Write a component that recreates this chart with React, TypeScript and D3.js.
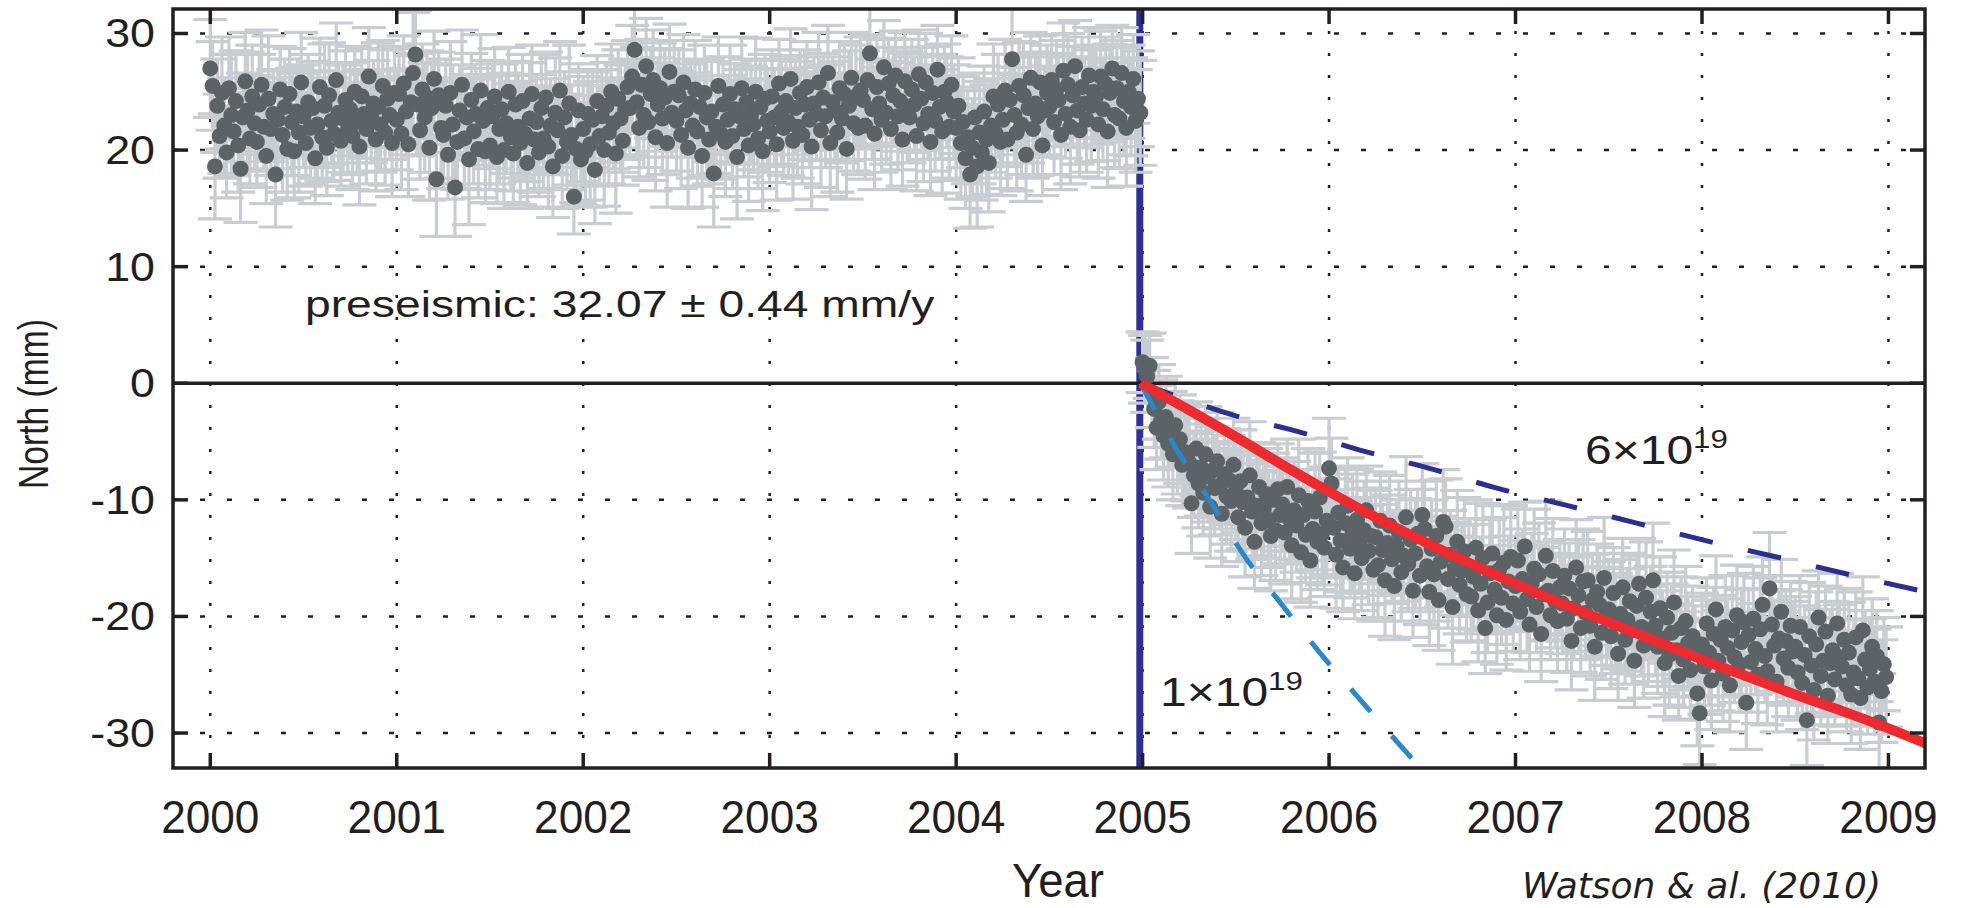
import React, { useRef, useEffect } from "react";
import * as d3 from "d3";

// axis ticks
const yearTicks = [2000, 2001, 2002, 2003, 2004, 2005, 2006, 2007, 2008, 2009];
const northTicks = [-30, -20, -10, 0, 10, 20, 30];

const sampleStep = 0.0125;
const preStart = 2000.0;
const postStart = 2005.0;
const quakeYear = 2004.985;

const preNorth = [
  27.0, 25.5, 18.6, 23.8, 21.2, 24.9, 22.1, 19.8, 25.3, 23.0, 21.6, 24.2, 20.4, 18.4, 22.8, 25.9, 23.4, 21.0, 24.6, 22.3,
  20.7, 23.9, 25.6, 22.0, 19.5, 24.4, 21.8, 23.1, 17.9, 22.6, 25.2, 21.3, 23.7, 20.1, 24.8, 22.4, 19.9, 23.3, 21.5, 25.8,
  22.9, 20.6, 24.1, 21.9, 23.6, 19.3, 22.2, 25.4, 21.1, 23.8, 20.2, 24.7, 22.5, 21.4, 26.0, 23.2, 20.8, 22.7, 24.3, 21.7,
  23.5, 21.2, 25.0, 22.4, 20.3, 24.6, 23.1, 21.8, 26.3, 22.9, 24.0, 20.9, 23.7, 22.2, 25.5, 21.5, 24.4, 23.0, 20.6, 24.9,
  22.6, 24.8, 21.4, 25.7, 23.3, 20.5, 24.1, 26.6, 28.2, 23.9, 21.7, 25.2, 22.8, 24.5, 20.2, 23.6, 26.1, 17.5, 24.7, 21.9,
  21.3, 23.8, 19.6, 24.9, 22.2, 16.8, 20.7, 23.4, 25.6, 21.0, 22.8, 19.2, 24.3, 21.6, 23.1, 20.1, 25.1, 22.5, 19.9, 23.6,
  20.4, 22.9, 24.6, 19.4, 21.8, 23.5, 20.0, 22.3, 25.0, 21.1, 19.7, 23.9, 22.0, 20.6, 24.2, 21.4, 18.9, 22.7, 24.8, 20.9,
  22.4, 19.8, 23.6, 21.0, 24.5, 20.3, 22.1, 18.6, 23.2, 21.7, 25.1, 19.5, 22.8, 20.7, 24.0, 21.3, 16.0, 20.1, 23.4, 19.2,
  21.8, 19.9, 23.1, 20.5, 22.6, 18.3, 24.2, 21.2, 22.9, 20.0, 23.8, 21.5, 25.0, 22.3, 19.7, 24.4, 22.7, 20.8, 23.5, 25.4,
  23.6, 26.3, 28.6, 24.1, 21.9, 25.6, 23.0, 27.2, 22.4, 24.8, 26.0, 21.1, 23.9, 25.3, 22.7, 24.5, 20.6, 26.7, 23.2, 25.0,
  22.5, 24.7, 21.3, 25.8, 23.4, 20.2, 24.0, 22.1, 25.2, 21.6, 23.7, 19.5, 24.9, 22.8, 20.9, 23.3, 18.0, 22.0, 25.5, 21.4,
  23.9, 20.7, 22.6, 24.8, 21.2, 23.5, 19.4, 22.9, 25.3, 21.8, 24.1, 20.4, 23.0, 22.2, 25.0, 21.0, 23.7, 19.9, 24.4, 22.5,
  21.6, 24.6, 22.8, 20.5, 25.7, 23.3, 21.9, 24.2, 22.4, 26.1, 20.8, 23.6, 22.0, 24.9, 21.3, 23.9, 25.4, 22.6, 20.3, 24.0,
  23.1, 25.8, 21.7, 24.5, 22.9, 26.6, 20.6, 24.1, 23.4, 21.5, 25.3, 22.7, 24.8, 20.1, 23.8, 26.2, 22.3, 24.6, 21.9, 25.1,
  24.3, 22.1, 26.0, 28.3, 23.5, 21.4, 25.4, 24.0, 22.6, 27.1, 23.2, 25.7, 21.8, 24.7, 26.4, 22.9, 24.2, 20.9, 25.9, 23.6,
  22.8, 25.2, 23.9, 21.2, 26.5, 24.4, 22.3, 25.8, 23.1, 20.7, 24.9, 22.5, 26.9, 23.7, 21.6, 25.0, 24.1, 22.0, 25.6, 23.3,
  21.9, 23.8, 20.6, 22.4, 19.3, 21.1, 17.9, 20.2, 22.8, 18.6, 21.5, 19.8, 23.3, 20.9, 18.9, 22.1, 24.6, 21.4, 23.9, 20.7,
  22.6, 25.1, 20.9, 24.3, 27.8, 23.0, 21.5, 25.5, 22.2, 24.7, 19.6, 23.6, 26.2, 21.8, 24.0, 22.9, 25.8, 20.4, 23.4, 24.9,
  23.7, 26.0, 22.4, 25.2, 24.3, 21.3, 26.8, 23.1, 25.6, 22.0, 24.7, 27.2, 23.4, 21.7, 25.4, 24.0, 22.6, 26.4, 23.8, 25.0,
  24.6, 22.2, 26.3, 23.5, 25.7, 21.6, 24.9, 27.0, 23.0, 25.3, 22.7, 26.6, 24.2, 21.9, 25.0, 23.7, 26.1, 22.5, 24.4, 23.2,
];

const preSigma = [
  4.2, 3.8, 4.5, 4.0, 3.6, 4.8, 4.1, 3.9, 4.4, 5.2, 3.7, 4.3, 4.0, 4.6, 3.8, 4.2, 5.0, 3.9, 4.4, 4.1,
  3.9, 4.3, 4.7, 3.6, 4.1, 5.4, 4.0, 3.8, 4.5, 4.2, 3.7, 4.9, 4.1, 4.4, 3.9, 4.6, 4.0, 3.8, 5.1, 4.3,
  4.4, 3.7, 4.1, 4.8, 4.0, 3.9, 4.6, 4.2, 3.8, 5.3, 4.1, 4.5, 3.7, 4.0, 4.9, 4.3, 3.9, 4.6, 4.2, 3.8,
  4.0, 4.6, 3.9, 4.3, 5.0, 4.1, 3.8, 4.7, 4.2, 4.0, 3.7, 4.4, 5.5, 4.1, 3.9, 4.5, 4.2, 3.8, 4.6, 4.0,
  4.3, 3.9, 4.8, 4.1, 3.7, 4.5, 4.0, 5.2, 3.8, 4.4, 4.2, 3.9, 4.7, 4.0, 4.5, 3.8, 4.1, 4.9, 3.7, 4.3,
  4.6, 4.0, 3.8, 4.4, 5.1, 4.2, 4.1, 3.9, 4.7, 4.3, 3.7, 5.6, 4.0, 4.5, 3.9, 4.2, 4.8, 3.8, 4.4, 4.1,
  3.8, 4.5, 4.1, 4.0, 4.7, 3.9, 5.0, 4.3, 3.8, 4.6, 4.2, 3.7, 4.4, 5.3, 4.0, 4.1, 3.9, 4.8, 4.2, 4.5,
  4.1, 3.8, 4.6, 4.3, 3.9, 5.2, 4.0, 4.4, 4.7, 3.8, 4.2, 4.5, 3.9, 4.1, 5.0, 4.3, 3.2, 4.6, 4.0, 3.9,
  4.5, 4.2, 3.8, 5.4, 4.1, 4.6, 3.9, 4.3, 4.0, 4.8, 3.7, 4.4, 4.1, 3.9, 5.1, 4.2, 4.6, 3.8, 4.3, 4.0,
  4.0, 4.4, 3.6, 4.7, 4.2, 3.9, 4.5, 4.1, 5.0, 3.8, 4.3, 4.6, 4.0, 3.9, 4.8, 4.2, 5.5, 4.1, 3.8, 4.4,
  4.3, 3.9, 4.6, 4.1, 4.0, 5.2, 3.8, 4.5, 4.2, 4.7, 3.9, 4.4, 4.1, 5.0, 3.8, 4.3, 4.6, 4.0, 4.2, 3.9,
  4.1, 4.7, 3.8, 4.2, 4.5, 3.9, 5.3, 4.0, 4.4, 4.1, 3.7, 4.8, 4.2, 3.9, 4.6, 4.3, 4.0, 5.1, 3.8, 4.4,
  4.4, 4.0, 4.2, 4.8, 3.8, 4.5, 4.1, 3.9, 4.6, 4.3, 5.0, 4.0, 4.4, 3.7, 4.2, 4.7, 3.9, 4.1, 5.4, 4.0,
  4.0, 4.3, 4.9, 3.8, 4.4, 4.1, 4.6, 3.9, 4.2, 5.1, 4.0, 3.8, 4.5, 4.3, 4.7, 3.9, 4.1, 4.4, 4.0, 4.6,
  4.2, 4.6, 3.9, 4.0, 4.3, 4.8, 4.1, 3.7, 4.5, 4.0, 4.4, 3.9, 5.2, 4.1, 3.8, 4.6, 4.3, 4.0, 4.2, 4.7,
  3.9, 4.3, 4.1, 4.7, 3.8, 4.4, 5.0, 4.2, 3.9, 4.6, 4.0, 4.3, 3.8, 4.5, 5.3, 4.1, 3.9, 4.4, 4.2, 4.0,
  4.5, 4.1, 4.8, 3.9, 4.3, 4.0, 4.6, 4.2, 3.8, 5.2, 4.4, 4.1, 3.9, 4.7, 4.2, 4.0, 4.5, 3.8, 4.3, 4.6,
  4.0, 4.4, 4.2, 3.9, 4.6, 4.1, 5.0, 3.8, 4.3, 4.5, 4.0, 4.7, 3.9, 4.2, 4.4, 5.1, 4.0, 4.3, 3.8, 4.1,
  4.3, 3.9, 4.5, 4.2, 4.0, 4.7, 4.1, 3.8, 4.4, 4.9, 4.2, 3.9, 4.6, 4.0, 4.3, 3.8, 4.5, 4.1, 4.8, 4.0,
  4.1, 4.6, 3.9, 4.4, 4.0, 4.8, 4.2, 3.7, 4.5, 4.1, 4.3, 3.9, 4.6, 5.0, 4.0, 4.2, 3.8, 4.4, 4.1, 4.5,
];

const postNorth = [
  1.8, 1.2, 0.6, 1.5, -0.8, -2.2, -3.8, -1.6, -3.1, -4.5, -2.9, -5.2, -4.0, -6.1, -3.6, -5.5, -4.8, -7.0, -5.9, -6.4,
  -6.8, -10.3, -7.9, -5.6, -8.6, -7.2, -9.4, -6.1, -8.0, -10.6, -7.5, -9.0, -6.7, -8.8, -11.2, -7.8, -9.7, -8.3, -10.1, -7.0,
  -9.3, -11.5, -8.4, -10.2, -12.4, -9.8, -7.9, -11.0, -13.6, -10.5, -8.9, -12.0, -10.8, -9.5, -11.7, -13.1, -10.0, -12.6, -9.1, -11.3,
  -10.4, -12.8, -8.9, -11.6, -13.9, -10.9, -12.2, -9.6, -14.5, -11.3, -13.0, -10.1, -15.2, -12.5, -11.0, -13.6, -9.8, -12.9, -14.1, -11.8,
  -7.3, -8.6, -12.4, -14.7, -11.1, -13.5, -15.8, -12.0, -10.5, -14.2, -12.9, -16.3, -11.7, -13.8, -15.0, -12.6, -10.9, -14.4, -13.1, -16.0,
  -13.2, -15.6, -11.8, -14.3, -16.9, -13.7, -12.2, -15.1, -17.4, -14.0, -12.8, -16.2, -14.8, -11.5, -15.5, -13.4, -17.8, -14.6, -12.9, -16.5,
  -11.3, -12.5, -15.7, -17.9, -14.2, -16.4, -13.1, -18.6, -15.3, -11.9, -12.3, -16.8, -14.7, -19.2, -15.9, -13.6, -17.3, -16.1, -14.4, -18.1,
  -15.8, -18.3, -16.6, -14.1, -19.5, -17.2, -15.0, -21.0, -18.8, -16.3, -14.6, -17.7, -19.9, -16.0, -18.4, -15.4, -20.3, -17.0, -14.9, -18.9,
  -17.4, -15.2, -19.6, -16.8, -14.0, -18.5, -20.7, -17.1, -15.9, -19.2, -16.4, -21.5, -18.1, -14.8, -17.8, -19.9, -16.1, -18.7, -20.4, -17.5,
  -18.9, -16.5, -20.2, -17.6, -22.1, -19.3, -15.8, -18.2, -21.0, -17.0, -19.7, -16.9, -20.8, -18.6, -22.6, -17.9, -19.0, -21.4, -16.7, -20.0,
  -19.4, -21.7, -18.0, -20.6, -23.2, -19.8, -17.5, -22.0, -20.3, -18.7, -21.2, -23.8, -19.1, -17.2, -20.9, -22.5, -18.4, -21.5, -19.6, -16.9,
  -20.8, -22.6, -19.3, -21.9, -24.0, -20.1, -23.3, -21.4, -18.8, -22.9, -25.1, -21.0, -23.7, -20.4, -22.3, -24.6, -21.7, -23.0, -26.6, -28.3,
  -22.4, -24.3, -20.6, -23.1, -25.5, -21.5, -19.4, -23.8, -22.0, -24.9, -20.9, -22.7, -25.9, -21.2, -23.5, -19.9, -24.1, -22.2, -20.5, -27.4,
  -21.6, -23.9, -20.2, -22.8, -25.0, -21.1, -19.0, -23.4, -24.7, -17.6, -20.7, -22.5, -25.6, -21.9, -19.6, -23.6, -22.1, -24.4, -20.8, -23.0,
  -22.6, -24.8, -20.9, -25.7, -23.3, -28.9, -21.7, -24.2, -26.3, -22.4, -20.1, -25.1, -23.8, -21.3, -26.8, -24.0, -22.9, -25.4, -20.6, -23.5,
  -24.3, -22.0, -25.9, -23.1, -26.7, -24.8, -21.8, -25.3, -27.0, -21.2, -23.7, -26.1, -24.5, -22.6, -25.6, -23.4, -29.1, -26.4, -24.1, -25.2,
];

const postSigma = [
  2.6, 2.9, 3.1, 2.8, 3.0, 3.3, 3.6, 3.2, 3.4, 3.8, 3.5, 3.7, 3.3, 3.9, 3.6, 4.0, 3.8, 3.5, 4.1, 3.7,
  3.9, 4.3, 3.6, 4.0, 3.8, 4.2, 3.7, 4.1, 3.9, 4.4, 3.8, 4.0, 4.2, 3.7, 4.5, 3.9, 4.1, 3.8, 4.3, 4.0,
  4.1, 3.8, 4.4, 4.0, 4.2, 3.9, 4.6, 4.1, 4.0, 4.3, 3.8, 4.5, 4.2, 3.9, 4.1, 4.7, 4.0, 4.3, 3.9, 4.2,
  4.0, 4.4, 4.1, 3.9, 4.6, 4.2, 4.0, 4.8, 4.3, 3.9, 4.1, 4.5, 4.0, 4.2, 5.0, 4.1, 3.9, 4.4, 4.2, 4.6,
  4.3, 3.9, 4.2, 4.6, 4.0, 4.4, 3.8, 4.7, 4.1, 4.2, 5.1, 3.9, 4.3, 4.0, 4.5, 4.2, 3.8, 4.6, 4.1, 4.4,
  4.0, 4.5, 4.2, 3.9, 4.8, 4.1, 4.3, 3.8, 4.6, 4.0, 4.4, 4.2, 3.9, 5.2, 4.1, 4.3, 4.0, 4.7, 3.8, 4.2,
  4.4, 4.1, 3.9, 4.6, 4.2, 4.0, 4.8, 4.3, 3.9, 4.5, 4.1, 4.2, 3.8, 4.9, 4.0, 4.4, 4.2, 3.9, 4.6, 4.1,
  4.2, 3.8, 4.5, 4.1, 4.4, 4.0, 4.7, 3.9, 4.3, 4.6, 4.1, 3.8, 4.2, 4.5, 4.0, 5.0, 4.3, 3.9, 4.4, 4.1,
  3.9, 4.4, 4.1, 4.3, 3.8, 4.6, 4.0, 4.2, 5.1, 3.9, 4.4, 4.1, 4.0, 4.7, 4.2, 3.8, 4.5, 4.0, 4.3, 4.1,
  4.3, 4.0, 4.6, 3.9, 4.2, 4.4, 4.1, 4.8, 3.8, 4.5, 4.0, 4.2, 4.3, 3.9, 4.6, 4.1, 4.4, 4.0, 5.2, 4.2,
  4.1, 4.5, 3.9, 4.3, 4.0, 4.7, 4.2, 3.8, 4.4, 4.1, 4.6, 4.0, 4.3, 3.9, 4.2, 4.5, 4.8, 4.1, 3.9, 4.9,
  4.2, 4.0, 4.4, 4.1, 4.6, 3.9, 4.3, 4.2, 4.5, 4.0, 3.8, 4.4, 4.1, 4.7, 4.0, 4.2, 4.3, 3.9, 4.5, 4.4,
  4.4, 4.1, 3.9, 4.5, 4.2, 4.0, 4.6, 4.3, 3.8, 4.1, 4.4, 4.2, 4.0, 4.7, 3.9, 4.3, 4.1, 4.5, 4.2, 4.0,
  4.0, 4.3, 4.5, 3.9, 4.2, 4.4, 4.1, 4.0, 4.6, 4.8, 4.2, 3.9, 4.3, 4.1, 4.5, 4.0, 4.4, 4.2, 3.8, 4.3,
  4.3, 4.1, 4.4, 4.0, 4.2, 3.9, 4.6, 4.1, 4.3, 4.5, 4.0, 4.2, 4.4, 3.9, 4.1, 4.6, 4.2, 4.0, 4.3, 4.5,
  4.1, 4.4, 4.0, 4.3, 4.2, 4.5, 3.9, 4.1, 4.4, 4.6, 4.2, 4.0, 4.3, 4.1, 4.5, 3.9, 4.2, 4.4, 4.0, 4.3,
];

// postseismic model curves
const fitYears = [2004.99, 2005.25, 2005.5, 2005.75, 2006.0, 2006.25, 2006.5, 2006.75, 2007.0, 2007.25, 2007.5, 2007.75, 2008.0, 2008.25, 2008.5, 2008.75, 2009.0, 2009.2];
const fitNorth = [0, -2.3, -4.6, -7.0, -9.3, -11.5, -13.5, -15.4, -17.2, -18.9, -20.5, -22.1, -23.7, -25.2, -26.7, -28.1, -29.6, -30.9];

const visc6Years = [2004.99, 2005.25, 2005.5, 2005.8, 2006.17, 2006.54, 2006.9, 2007.28, 2007.65, 2008.02, 2008.4, 2008.76, 2009.2];
const visc6North = [0, -1.5, -2.8, -4.0, -5.75, -7.3, -9.0, -10.5, -12.0, -13.5, -14.9, -16.3, -17.9];

const visc1Years = [2004.99, 2005.185, 2005.37, 2005.545, 2005.75, 2005.96, 2006.17, 2006.5];
const visc1North = [0, -5.75, -10.3, -14.8, -19.05, -23.3, -27.2, -33.2];

const ink = "#231f20";
const sans = "'Liberation Sans', Arial, Helvetica, sans-serif";

export default function App() {
  const svgRef = useRef<SVGSVGElement>(null);

  useEffect(() => {
    const W = 1965;
    const H = 908;
    const margin = { top: 9, right: 40, bottom: 140, left: 173 };
    const width = W - margin.left - margin.right;
    const height = H - margin.top - margin.bottom;

    const x = d3.scaleLinear().domain([1999.8, 2009.196]).range([0, width]);
    const y = d3.scaleLinear().domain([-33.0, 32.1]).range([height, 0]);

    const root = d3.select(svgRef.current);
    root.selectAll("*").remove();

    const g = root.append("g").attr("transform", `translate(${margin.left},${margin.top})`);

    g.append("defs")
      .append("clipPath")
      .attr("id", "plotClip")
      .append("rect")
      .attr("width", width)
      .attr("height", height);

    // dotted grid
    g.append("g")
      .selectAll("line")
      .data(yearTicks)
      .join("line")
      .attr("x1", (d) => x(d))
      .attr("x2", (d) => x(d))
      .attr("y1", 0)
      .attr("y2", height)
      .attr("stroke", ink)
      .attr("stroke-width", 2.5)
      .attr("stroke-dasharray", "3 19");

    g.append("g")
      .selectAll("line")
      .data(northTicks.filter((d) => d !== 0))
      .join("line")
      .attr("x1", 0)
      .attr("x2", width)
      .attr("y1", (d) => y(d))
      .attr("y2", (d) => y(d))
      .attr("stroke", ink)
      .attr("stroke-width", 2.5)
      .attr("stroke-dasharray", "5 22");

    // earthquake
    g.append("line")
      .attr("x1", x(quakeYear))
      .attr("x2", x(quakeYear))
      .attr("y1", 0)
      .attr("y2", height)
      .attr("stroke", "#2e3192")
      .attr("stroke-width", 7);

    const points = [
      ...preNorth.map((v, i) => ({ t: preStart + i * sampleStep, v, s: preSigma[i] })),
      ...postNorth.map((v, i) => ({ t: postStart + i * sampleStep, v, s: postSigma[i] })),
    ];

    const data = g.append("g").attr("clip-path", "url(#plotClip)");

    // error bars
    const cap = 17;
    let bars = "";
    points.forEach((p) => {
      const px = x(p.t);
      const y1 = y(p.v - p.s);
      const y2 = y(p.v + p.s);
      bars += `M${px},${y1}V${y2}M${px - cap},${y1}h${cap * 2}M${px - cap},${y2}h${cap * 2}`;
    });
    data.append("path").attr("d", bars).attr("fill", "none").attr("stroke", "#c8cdd2").attr("stroke-width", 3.2);

    // zero line
    data.append("line")
      .attr("x1", 0)
      .attr("x2", width)
      .attr("y1", y(0))
      .attr("y2", y(0))
      .attr("stroke", ink)
      .attr("stroke-width", 3.5);

    data.append("g")
      .selectAll("circle")
      .data(points)
      .join("circle")
      .attr("cx", (d) => x(d.t))
      .attr("cy", (d) => y(d.v))
      .attr("r", 8)
      .attr("fill", "#5c6366");

    const line = d3
      .line<number>()
      .curve(d3.curveMonotoneX);

    const curve = (years: number[], vals: number[]) =>
      line.x((d, i) => x(years[i])).y((d) => y(d))(vals);

    data.append("path")
      .attr("d", curve(visc6Years, visc6North))
      .attr("fill", "none")
      .attr("stroke", "#2b2f8f")
      .attr("stroke-width", 5)
      .attr("stroke-dasharray", "34 36");

    data.append("path")
      .attr("d", curve(visc1Years, visc1North))
      .attr("fill", "none")
      .attr("stroke", "#2a88c8")
      .attr("stroke-width", 5)
      .attr("stroke-dasharray", "30 32");

    data.append("path")
      .attr("d", curve(fitYears, fitNorth))
      .attr("fill", "none")
      .attr("stroke", "#ec2a2f")
      .attr("stroke-width", 10);

    // frame + inward ticks
    g.append("rect")
      .attr("width", width)
      .attr("height", height)
      .attr("fill", "none")
      .attr("stroke", ink)
      .attr("stroke-width", 3.5);

    const tickLen = 15;
    const ticks = g.append("g").attr("stroke", ink).attr("stroke-width", 3.5);
    yearTicks.forEach((d) => {
      ticks.append("line").attr("x1", x(d)).attr("x2", x(d)).attr("y1", height).attr("y2", height - tickLen);
      ticks.append("line").attr("x1", x(d)).attr("x2", x(d)).attr("y1", 0).attr("y2", tickLen);
    });
    northTicks.forEach((d) => {
      ticks.append("line").attr("x1", 0).attr("x2", tickLen).attr("y1", y(d)).attr("y2", y(d));
      ticks.append("line").attr("x1", width).attr("x2", width - tickLen).attr("y1", y(d)).attr("y2", y(d));
    });

    const label = (
      str: string,
      px: number,
      py: number,
      size: number,
      sx: number,
      anchor: string,
      extra = ""
    ) =>
      root
        .append("text")
        .attr("transform", `translate(${px},${py}) ${extra} scale(${sx},1)`)
        .attr("text-anchor", anchor)
        .attr("font-family", sans)
        .attr("font-size", size)
        .attr("fill", ink)
        .text(str);

    yearTicks.forEach((d) => label(String(d), margin.left + x(d), 833, 47, 0.94, "middle"));
    northTicks.forEach((d) => label(String(d), 155, margin.top + y(d) + 14, 40, 1.12, "end"));

    label("Year", 1058, 897, 48, 0.95, "middle");
    label("North (mm)", 48, 404, 42, 0.8, "middle", "rotate(-90)");

    label("preseismic: 32.07 \u00b1 0.44 mm/y", 305, 317, 37, 1.25, "start");

    const sup = (px: number, py: number, base: string) => {
      const t = label("", px, py, 40, 1.2, "start");
      t.append("tspan").text(base);
      t.append("tspan").attr("font-size", 26).attr("dy", -16).text("19");
    };
    sup(1160, 706, "1\u00d710");
    sup(1585, 464, "6\u00d710");

    root
      .append("text")
      .attr("x", 1522)
      .attr("y", 898)
      .attr("font-family", "'DejaVu Sans', Verdana, sans-serif")
      .attr("font-style", "italic")
      .attr("font-size", 36)
      .attr("fill", ink)
      .text("Watson & al. (2010)");
  }, []);

  return (
    <svg
      ref={svgRef}
      width={1965}
      height={908}
      style={{ position: "absolute", left: 0, top: 0, background: "#fff" }}
    />
  );
}
